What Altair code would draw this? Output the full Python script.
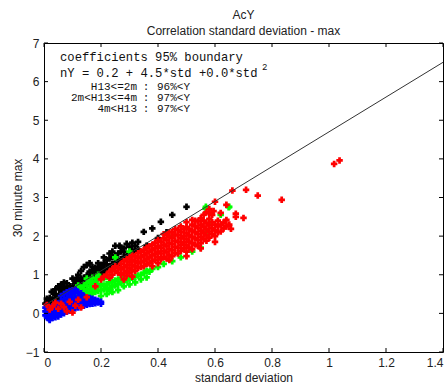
import altair as alt
import pandas as pd

# ---------------- data ----------------
black_x = [0.005, 0.01, 0.015, 0.02, 0.025, 0.03, 0.035, 0.04, 0.045, 0.05, 0.055, 0.06, 0.065, 0.07, 0.075,
           0.08, 0.085, 0.09, 0.095, 0.10, 0.105, 0.11, 0.115, 0.12, 0.125, 0.13, 0.135, 0.14, 0.145, 0.15,
           0.155, 0.16, 0.165, 0.17, 0.175, 0.18, 0.185, 0.19, 0.195, 0.20, 0.205, 0.21, 0.215, 0.22, 0.23,
           0.235, 0.24, 0.25, 0.255, 0.26, 0.27, 0.28, 0.29, 0.30, 0.31, 0.32, 0.33, 0.25, 0.265, 0.33,
           0.35, 0.38, 0.41, 0.45, 0.50, 0.08, 0.12, 0.16, 0.18, 0.22, 0.28, 0.06, 0.36, 0.40, 0.43,
           0.02, 0.14, 0.20, 0.03, 0.10, 0.027, 0.056, 0.115, 0.126, 0.185, 0.31, 0.01, 0.04,
           0.03, 0.04, 0.05, 0.06, 0.07, 0.08, 0.10, 0.12, 0.13, 0.14, 0.15, 0.16, 0.17, 0.19, 0.21,
           0.23, 0.24, 0.27, 0.29, 0.31,
           0.04, 0.06, 0.08, 0.09, 0.11, 0.12, 0.13, 0.15, 0.16, 0.17, 0.18, 0.20, 0.21, 0.22, 0.24,
           0.25, 0.26, 0.28, 0.30, 0.32, 0.11, 0.07, 0.19, 0.23, 0.27]
black_y = [0.25, 0.30, 0.22, 0.33, 0.27, 0.36, 0.30, 0.40, 0.33, 0.44, 0.38, 0.47, 0.41, 0.50, 0.45,
           0.55, 0.49, 0.58, 0.52, 0.63, 0.56, 0.66, 0.60, 0.72, 0.65, 0.76, 0.70, 0.80, 0.74, 0.86,
           0.79, 0.90, 0.83, 0.95, 0.88, 1.00, 0.93, 1.04, 0.97, 1.10, 1.02, 1.14, 1.07, 1.18, 1.22,
           1.15, 1.28, 1.32, 1.25, 1.38, 1.40, 1.46, 1.50, 1.55, 1.58, 1.62, 1.66, 1.75, 1.75, 1.85,
           2.11, 2.20, 2.37, 2.55, 2.76, 0.68, 0.80, 0.98, 1.08, 1.27, 1.60, 0.55, 1.75, 1.95, 2.10,
           0.40, 0.92, 1.20, 0.25, 0.70, 0.56, 0.69, 0.92, 0.87, 1.13, 1.64, 0.38, 0.48,
           0.55, 0.62, 0.70, 0.75, 0.80, 0.78, 0.90, 1.00, 1.10, 1.20, 1.25, 1.30, 1.20, 1.30, 1.45,
           1.55, 1.60, 1.70, 1.80, 1.83,
           0.50, 0.60, 0.65, 0.70, 0.78, 0.88, 0.90, 0.98, 1.08, 1.10, 1.18, 1.25, 1.30, 1.38, 1.45,
           1.50, 1.55, 1.68, 1.72, 1.75, 0.85, 0.66, 1.20, 1.42, 1.60]

blue_x = [0.005, 0.005, 0.005, 0.01, 0.01, 0.01, 0.01, 0.02, 0.02, 0.02, 0.02, 0.02, 0.03, 0.03, 0.03, 0.03,
          0.04, 0.04, 0.04, 0.04, 0.05, 0.05, 0.05, 0.05, 0.06, 0.06, 0.06, 0.06, 0.07, 0.07, 0.07, 0.07,
          0.08, 0.08, 0.08, 0.08, 0.09, 0.09, 0.09, 0.09, 0.10, 0.10, 0.10, 0.10, 0.11, 0.11, 0.11, 0.11,
          0.12, 0.12, 0.12, 0.13, 0.13, 0.13, 0.14, 0.14, 0.15, 0.15, 0.16, 0.16, 0.17, 0.17, 0.18, 0.19,
          0.20, 0.185, 0.015, 0.035, 0.045, 0.065, 0.085, 0.095, 0.105, 0.125, 0.145,
          0.06, 0.07, 0.08, 0.09, 0.10, 0.11, 0.12, 0.13, 0.14, 0.15, 0.16, 0.17, 0.18, 0.19, 0.20]
blue_y = [-0.05, 0.05, 0.15, -0.10, 0.00, 0.10, 0.20, -0.15, -0.05, 0.05, 0.15, -0.17, -0.12, -0.02, 0.08, 0.18,
          -0.10, 0.00, 0.12, 0.22, -0.08, 0.02, 0.14, 0.26, -0.03, 0.08, 0.20, 0.32, 0.00, 0.12, 0.24, 0.36,
          0.04, 0.16, 0.28, 0.40, 0.07, 0.19, 0.32, 0.46, 0.10, 0.22, 0.35, 0.50, 0.13, 0.26, 0.40, 0.54,
          0.15, 0.28, 0.42, 0.18, 0.30, 0.45, 0.20, 0.33, 0.22, 0.36, 0.24, 0.32, 0.25, 0.32, 0.26, 0.28,
          0.25, 0.31, -0.12, 0.03, 0.17, 0.14, 0.22, 0.38, 0.28, 0.35, 0.27,
          0.45, 0.50, 0.55, 0.58, 0.60, 0.62, 0.55, 0.52, 0.45, 0.42, 0.40, 0.38, 0.35, 0.33, 0.30]

green_x = [0.03, 0.05, 0.07, 0.08, 0.10, 0.10, 0.11, 0.11, 0.12, 0.12, 0.12, 0.13, 0.13, 0.13, 0.14, 0.14,
           0.14, 0.15, 0.15, 0.15, 0.16, 0.16, 0.16, 0.16, 0.17, 0.17, 0.17, 0.18, 0.18, 0.18, 0.19, 0.19,
           0.19, 0.20, 0.20, 0.21, 0.21, 0.22, 0.22, 0.23, 0.23, 0.24, 0.24, 0.25, 0.25, 0.26, 0.26, 0.27,
           0.27, 0.28, 0.28, 0.29, 0.30, 0.31, 0.32, 0.33, 0.34, 0.35, 0.36, 0.37, 0.38, 0.40, 0.42, 0.45,
           0.48, 0.52, 0.55, 0.567, 0.568, 0.58, 0.648, 0.65, 0.25, 0.30, 0.57, 0.45, 0.22, 0.19, 0.62,
           0.20, 0.22, 0.24, 0.26, 0.28, 0.30, 0.32, 0.34, 0.36, 0.15, 0.17, 0.19, 0.21, 0.23]
green_y = [0.02, 0.05, 0.10, 0.20, 0.35, 0.48, 0.40, 0.55, 0.45, 0.60, 0.72, 0.40, 0.52, 0.66, 0.45, 0.58,
           0.72, 0.50, 0.62, 0.78, 0.46, 0.56, 0.70, 0.84, 0.52, 0.64, 0.78, 0.55, 0.68, 0.82, 0.58, 0.70,
           0.88, 0.60, 0.75, 0.62, 0.72, 0.65, 0.76, 0.66, 0.80, 0.70, 0.82, 0.72, 0.85, 0.76, 0.88, 0.80,
           0.90, 0.82, 0.94, 0.86, 0.90, 0.92, 0.95, 0.98, 1.00, 1.05, 1.10, 1.08, 1.15, 1.20, 1.28, 1.35,
           1.45, 1.60, 1.70, 2.71, 2.76, 2.34, 2.75, 2.76, 1.45, 1.60, 2.10, 2.00, 0.95, 1.00, 2.55,
           0.45, 0.50, 0.55, 0.60, 0.70, 0.75, 0.80, 0.88, 0.93, 0.90, 0.92, 0.95, 0.90, 0.58]

red_x = [0.02, 0.03, 0.05, 0.06, 0.08, 0.09, 0.11, 0.12, 0.13, 0.15, 0.18,
         0.20, 0.21, 0.22, 0.23, 0.23, 0.24, 0.24,
         0.25, 0.25, 0.26, 0.26, 0.27, 0.27, 0.27, 0.28, 0.28, 0.28, 0.29, 0.29, 0.29, 0.29,
         0.30, 0.30, 0.30, 0.30, 0.31, 0.31, 0.31, 0.31, 0.32, 0.32, 0.32, 0.32, 0.33, 0.33, 0.33, 0.33,
         0.34, 0.34, 0.34, 0.34,
         0.35, 0.35, 0.35, 0.35, 0.36, 0.36, 0.36, 0.36, 0.37, 0.37, 0.37, 0.37, 0.38, 0.38, 0.38, 0.38,
         0.39, 0.39, 0.39, 0.39,
         0.40, 0.40, 0.40, 0.40, 0.40, 0.41, 0.41, 0.41, 0.41, 0.42, 0.42, 0.42, 0.42, 0.43, 0.43, 0.43,
         0.43, 0.43, 0.44, 0.44, 0.44, 0.44,
         0.45, 0.45, 0.45, 0.45, 0.45, 0.46, 0.46, 0.46, 0.46, 0.47, 0.47, 0.47, 0.47, 0.47, 0.48, 0.48,
         0.48, 0.48, 0.49, 0.49, 0.49, 0.49,
         0.50, 0.50, 0.50, 0.50, 0.50, 0.51, 0.51, 0.51, 0.51, 0.52, 0.52, 0.52, 0.52, 0.52, 0.53, 0.53,
         0.53, 0.53, 0.54, 0.54, 0.54, 0.54, 0.54,
         0.55, 0.55, 0.55, 0.55, 0.56, 0.56, 0.56, 0.56, 0.57, 0.57, 0.57, 0.57, 0.58, 0.58, 0.58, 0.58,
         0.59, 0.59, 0.59, 0.59,
         0.60, 0.60, 0.60, 0.60, 0.61, 0.61, 0.61, 0.62, 0.62, 0.62, 0.63, 0.63, 0.64, 0.64, 0.64, 0.65,
         0.656, 0.661, 0.673, 0.673, 0.70, 0.709, 0.75, 0.834, 1.018, 1.037,
         0.57, 0.58, 0.595, 0.38, 0.44, 0.50, 0.55, 0.60,
         0.01, 0.04, 0.07, 0.10, 0.28, 0.31,
         0.50, 0.52, 0.48, 0.46, 0.44, 0.42, 0.55, 0.56, 0.58, 0.53]
red_y = [0.10, 0.18, 0.12, 0.25, 0.05, 0.30, 0.20, 0.35, 0.15, 0.42, 0.70,
         0.88, 0.95, 1.00, 0.92, 1.08, 1.00, 1.15,
         1.10, 1.22, 1.05, 1.18, 1.00, 1.14, 1.28, 1.05, 1.20, 1.35, 1.10, 1.25, 1.40, 0.98,
         1.05, 1.18, 1.32, 1.45, 1.12, 1.25, 1.38, 1.50, 1.10, 1.22, 1.35, 1.48, 1.18, 1.30, 1.43, 1.56,
         1.20, 1.34, 1.47, 1.60,
         1.22, 1.36, 1.50, 1.64, 1.28, 1.42, 1.56, 1.70, 1.30, 1.45, 1.60, 1.74, 1.35, 1.50, 1.64, 1.78,
         1.38, 1.53, 1.68, 1.83,
         1.30, 1.45, 1.60, 1.75, 1.90, 1.40, 1.55, 1.70, 1.86, 1.46, 1.62, 1.78, 1.94, 1.42, 1.58, 1.74,
         1.90, 2.03, 1.50, 1.66, 1.82, 1.98,
         1.48, 1.64, 1.80, 1.96, 2.10, 1.56, 1.72, 1.88, 2.04, 1.55, 1.70, 1.86, 2.02, 2.16, 1.62, 1.78,
         1.94, 2.10, 1.68, 1.84, 2.00, 2.18,
         1.60, 1.76, 1.92, 2.08, 2.24, 1.70, 1.86, 2.02, 2.18, 1.66, 1.82, 1.98, 2.14, 2.30, 1.78, 1.94,
         2.10, 2.26, 1.75, 1.90, 2.06, 2.22, 2.38,
         1.82, 1.98, 2.14, 2.30, 1.92, 2.08, 2.24, 2.40, 1.88, 2.02, 2.18, 2.34, 1.96, 2.12, 2.28, 2.45,
         2.05, 2.20, 2.36, 2.55,
         2.00, 2.15, 2.30, 2.89, 2.10, 2.25, 2.40, 2.12, 2.30, 2.60, 2.20, 2.35, 2.42, 2.81, 2.25, 2.30,
         2.19, 3.18, 2.58, 2.50, 2.47, 3.20, 3.05, 2.94, 3.87, 3.96,
         2.62, 2.70, 2.65, 1.22, 1.38, 1.48, 1.68, 1.85,
         0.22, 0.28, 0.16, 0.02, 0.88, 0.95,
         2.36, 2.42, 2.25, 2.18, 2.10, 2.05, 2.46, 2.55, 2.60, 2.40]

# 95% boundary line  nY = 0.2 + 4.5*std
line_x = [0.0, 1.4]
line_y = [0.2, 6.5]

x_ticks = [0, 0.2, 0.4, 0.6, 0.8, 1.0, 1.2, 1.4]
y_ticks = [-1, 0, 1, 2, 3, 4, 5, 6, 7]

title_lines = ["AcY", "Correlation standard deviation - max"]
note_head = "coefficients 95% boundary"
note_formula = "nY = 0.2 + 4.5*std +0.0*std"
note_sup = "2"
class_labels = ["H13<=2m", "2m<H13<=4m", "4m<H13"]
class_values = ["96%<Y", "97%<Y", "97%<Y"]

# ---------------- chart ----------------
W, H = 399, 309
FONT = "Liberation Sans"
MONO = "Liberation Mono"
PLUS = "M-1,-0.42H-0.42V-1H0.42V-0.42H1V0.42H0.42V1H-0.42V0.42H-1Z"

xs = alt.Scale(domain=[0, 1.4], nice=False, zero=False)
ys = alt.Scale(domain=[-1, 7], nice=False, zero=False)
xaxis = alt.Axis(values=x_ticks, format="~g", ticks=False, domain=False, grid=False,
                 labelPadding=5, titlePadding=4, labelFontSize=12, titleFontSize=12)
yaxis = alt.Axis(values=y_ticks, format="~g", ticks=False, domain=False, grid=False,
                 labelPadding=5, titlePadding=1, labelFontSize=12, titleFontSize=12)


def X(f):
    return alt.X(f, type="quantitative", scale=xs, axis=xaxis, title="standard deviation")


def Y(f):
    return alt.Y(f, type="quantitative", scale=ys, axis=yaxis, title="30 minute max")


def pts(xv, yv, color):
    df = pd.DataFrame({"x": xv, "y": yv})
    return alt.Chart(df).mark_point(shape=PLUS, filled=True, size=42, color=color,
                                    opacity=1, strokeWidth=0).encode(x=X("x"), y=Y("y"))


line = alt.Chart(pd.DataFrame({"x": line_x, "y": line_y})).mark_line(
    color="#333333", strokeWidth=1).encode(x=X("x"), y=Y("y"))

xt = pd.DataFrame({"v": x_ticks})
yt = pd.DataFrame({"v": y_ticks})
tick_b = alt.Chart(xt).mark_rule(color="black").encode(x=X("v"), y=alt.value(H), y2=alt.value(H - 4))
tick_t = alt.Chart(xt).mark_rule(color="black").encode(x=X("v"), y=alt.value(0), y2=alt.value(4))
tick_l = alt.Chart(yt).mark_rule(color="black").encode(y=Y("v"), x=alt.value(0), x2=alt.value(4))
tick_r = alt.Chart(yt).mark_rule(color="black").encode(y=Y("v"), x=alt.value(W), x2=alt.value(W - 4))

dummy = pd.DataFrame({"a": [0]})


def txt(s, px, py, size, font, align="left", color="#111"):
    return alt.Chart(dummy).mark_text(align=align, baseline="middle", font=font, fontSize=size,
                                      color=color).encode(
        x=alt.value(px), y=alt.value(py), text=alt.value(s))


texts = [
    txt(title_lines[0], W / 2, -28, 12, FONT, "center", "#222"),
    txt(title_lines[1], W / 2, -12, 12, FONT, "center", "#222"),
    txt(note_head, 16, 14, 12.2, MONO),
    txt(note_formula, 16, 30, 12.2, MONO),
    txt(note_sup, 218, 24, 9, MONO),
]
row_y = [43.5, 54.5, 65.5]
for lab, val, ry in zip(class_labels, class_values, row_y):
    texts.append(txt(lab, 93, ry, 11, MONO, "right"))
    texts.append(txt(":", 102, ry, 11, MONO, "center"))
    texts.append(txt(val, 113, ry, 11, MONO))

chart = alt.layer(
    pts(black_x, black_y, "#000000"),
    pts(green_x, green_y, "#00ff00"),
    pts(blue_x, blue_y, "#0000ff"),
    pts(red_x, red_y, "#ff0000"),
    line,
    tick_b, tick_t, tick_l, tick_r,
    *texts,
).properties(
    width=W, height=H,
    autosize=alt.AutoSizeParams(type="none"),
    padding={"left": 44, "top": 43, "right": 5, "bottom": 31},
    background="white",
).configure_view(
    stroke="black", strokeWidth=1
).configure_axis(
    labelFont=FONT, titleFont=FONT, labelColor="#222", titleColor="#222",
    titleFontWeight="normal"
)

chart.save("out.html", embed_options={"renderer": "svg", "actions": False})
